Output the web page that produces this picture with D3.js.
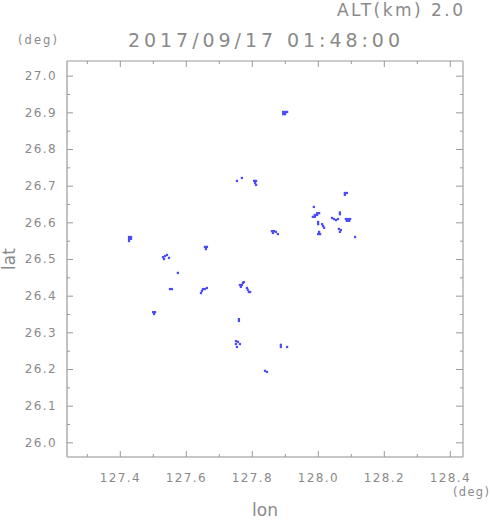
<!DOCTYPE html>
<html>
<head>
<meta charset="utf-8">
<script src="https://cdn.jsdelivr.net/npm/d3@7"></script>
<style>
  body { margin: 0; background: #fff; }
  text { font-family: "DejaVu Sans", sans-serif; fill: #8a8a8a; }
</style>
</head>
<body>
<div id="chart"></div>
<script>
// radar echo cells at ALT 2.0 km, [lon, lat]
const echoCells = [
  [127.895,26.901],[127.901,26.901],[127.907,26.901],[127.895,26.895],[127.901,26.895],
  [127.755,26.713],[127.770,26.721],
  [127.807,26.713],[127.813,26.713],[127.810,26.707],[127.813,26.702],
  [128.082,26.680],[128.088,26.680],[128.082,26.675],
  [127.988,26.642],
  [127.991,26.620],[127.998,26.620],[127.991,26.615],[127.985,26.615],[128.004,26.625],[127.998,26.625],
  [128.001,26.601],[128.001,26.595],
  [128.013,26.595],[128.016,26.590],[128.019,26.585],
  [128.004,26.574],[128.007,26.568],[128.001,26.568],
  [128.043,26.612],[128.049,26.609],
  [128.055,26.606],[128.061,26.609],
  [128.067,26.627],[128.067,26.622],
  [128.085,26.609],[128.092,26.609],[128.098,26.609],[128.088,26.604],[128.095,26.604],
  [128.064,26.582],[128.070,26.579],[128.067,26.574],
  [128.113,26.560],
  [127.861,26.576],[127.867,26.576],[127.873,26.574],[127.864,26.571],[127.879,26.568],
  [127.428,26.560],[127.434,26.560],[127.428,26.555],[127.434,26.555],[127.428,26.549],
  [127.531,26.505],[127.537,26.508],[127.543,26.511],[127.534,26.500],[127.549,26.503],
  [127.658,26.533],[127.664,26.533],[127.661,26.527],
  [127.576,26.462],
  [127.552,26.418],[127.558,26.418],
  [127.652,26.418],[127.658,26.418],[127.664,26.421],[127.649,26.413],[127.646,26.407],
  [127.764,26.429],[127.770,26.429],[127.773,26.435],[127.776,26.437],[127.767,26.424],
  [127.785,26.421],[127.788,26.416],[127.791,26.410],[127.795,26.410],
  [127.501,26.355],[127.507,26.355],[127.504,26.350],
  [127.761,26.336],[127.761,26.331],
  [127.752,26.276],[127.758,26.274],[127.752,26.268],[127.755,26.260],[127.764,26.268],
  [127.888,26.266],[127.888,26.260],[127.907,26.260],
  [127.840,26.195],[127.846,26.192]
];
const cellSize = [0.0068, 0.0062]; // deg lon, deg lat

const lonDomain = [127.24, 128.44];
const latDomain = [25.96, 27.04];
const lonMajor = [127.4, 127.6, 127.8, 128.0, 128.2, 128.4];
const lonMinor = [127.3, 127.5, 127.7, 127.9, 128.1, 128.3];
const latMajor = [26.0, 26.1, 26.2, 26.3, 26.4, 26.5, 26.6, 26.7, 26.8, 26.9, 27.0];
const latMinor = [26.05, 26.15, 26.25, 26.35, 26.45, 26.55, 26.65, 26.75, 26.85, 26.95];

const titleText = "2017/09/17 01:48:00";
const altText = "ALT(km) 2.0";

const W = 491, H = 521;
const margin = {top: 61, right: 28, bottom: 64, left: 67},
  width = W - margin.left - margin.right,
  height = H - margin.top - margin.bottom;

const svg = d3.select("#chart")
  .append("svg")
    .attr("width", W)
    .attr("height", H);

const g = svg.append("g")
  .attr("transform", `translate(${margin.left},${margin.top})`);

const x = d3.scaleLinear().domain(lonDomain).range([0, width]);
const y = d3.scaleLinear().domain(latDomain).range([height, 0]);

// echo cells
g.selectAll("rect.cell")
  .data(echoCells)
  .join("rect")
    .attr("class", "cell")
    .attr("x", d => x(d[0] - cellSize[0] / 2))
    .attr("y", d => y(d[1] + cellSize[1] / 2))
    .attr("width", d => x(d[0] + cellSize[0] / 2) - x(d[0] - cellSize[0] / 2))
    .attr("height", d => y(d[1] - cellSize[1] / 2) - y(d[1] + cellSize[1] / 2))
    .attr("fill", "#4b4bf8");

// frame
g.append("line").attr("x1", 0).attr("x2", 0).attr("y1", 0).attr("y2", height)
  .attr("stroke", "#999").attr("stroke-width", 1.2);
g.append("line").attr("x1", 0).attr("x2", width).attr("y1", 0).attr("y2", 0)
  .attr("stroke", "#999").attr("stroke-width", 1.2);
g.append("line").attr("x1", width).attr("x2", width).attr("y1", 0).attr("y2", height)
  .attr("stroke", "#c8c8c8").attr("stroke-width", 2);
g.append("line").attr("x1", 0).attr("x2", width).attr("y1", height).attr("y2", height)
  .attr("stroke", "#b4b4b4").attr("stroke-width", 1.6);

function styleAxis(sel) {
  sel.select(".domain").remove();
  sel.selectAll("line").attr("stroke", "#999");
  sel.selectAll("text")
    .attr("font-size", 12)
    .attr("letter-spacing", "1.4px")
    .attr("fill", "#8a8a8a");
}

// inward ticks on all four sides
g.append("g").attr("transform", `translate(0,${height})`)
  .call(d3.axisBottom(x).tickValues(lonMajor).tickSize(-6).tickPadding(16)
    .tickFormat(d3.format(".1f")))
  .call(styleAxis);
g.append("g").attr("transform", `translate(0,${height})`)
  .call(d3.axisBottom(x).tickValues(lonMinor).tickSize(-3).tickFormat(""))
  .call(styleAxis);
g.append("g")
  .call(d3.axisTop(x).tickValues(lonMajor).tickSize(-6).tickFormat(""))
  .call(styleAxis);
g.append("g")
  .call(d3.axisTop(x).tickValues(lonMinor).tickSize(-3).tickFormat(""))
  .call(styleAxis);

g.append("g")
  .call(d3.axisLeft(y).tickValues(latMajor).tickSize(-6).tickPadding(10)
    .tickFormat(d3.format(".1f")))
  .call(styleAxis);
g.append("g")
  .call(d3.axisLeft(y).tickValues(latMinor).tickSize(-3).tickFormat(""))
  .call(styleAxis);
g.append("g").attr("transform", `translate(${width},0)`)
  .call(d3.axisRight(y).tickValues(latMajor).tickSize(-7).tickFormat(""))
  .call(styleAxis);
g.append("g").attr("transform", `translate(${width},0)`)
  .call(d3.axisRight(y).tickValues(latMinor).tickSize(-3).tickFormat(""))
  .call(styleAxis);

// titles and labels
svg.append("text")
  .attr("x", 463).attr("y", 16)
  .attr("text-anchor", "end")
  .attr("font-size", 17)
  .attr("textLength", 126).attr("lengthAdjust", "spacing")
  .text(altText);

svg.append("text")
  .attr("x", 128).attr("y", 47)
  .attr("font-size", 19)
  .attr("textLength", 272).attr("lengthAdjust", "spacing")
  .text(titleText);

svg.append("text")
  .attr("x", 18).attr("y", 44)
  .attr("font-size", 11.5)
  .attr("textLength", 39).attr("lengthAdjust", "spacing")
  .text("(deg)");

svg.append("text")
  .attr("x", 489).attr("y", 496)
  .attr("text-anchor", "end")
  .attr("font-size", 11.5)
  .attr("textLength", 36).attr("lengthAdjust", "spacing")
  .text("(deg)");

svg.append("text")
  .attr("x", margin.left + width / 2).attr("y", 516)
  .attr("text-anchor", "middle")
  .attr("font-size", 17)
  .text("lon");

svg.append("text")
  .attr("transform", `translate(15,${margin.top + height / 2}) rotate(-90)`)
  .attr("text-anchor", "middle")
  .attr("font-size", 17)
  .text("lat");
</script>
</body>
</html>
